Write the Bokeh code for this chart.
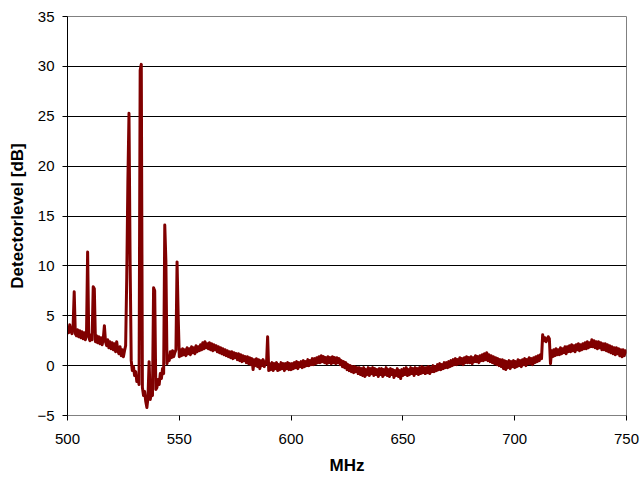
from bokeh.plotting import figure
from bokeh.models import FixedTicker, Range1d
from bokeh.embed import file_html
from bokeh.resources import INLINE

# Detector level [dB], one value every 0.5 MHz starting at 500 MHz
freq_start = 500.0
freq_step = 0.5
level = [
    # 500.0 - 509.5
    3.9, 3.3, 4.1, 3.5, 3.2, 3.9, 7.4, 3.2, 3.0, 3.6, 2.9, 3.5, 2.8, 3.4, 2.7, 3.3, 2.6, 3.2, 11.4, 2.9,
    # 510.0 - 519.5
    2.5, 3.1, 2.6, 7.9, 7.7, 2.4, 3.0, 2.3, 2.9, 2.2, 2.8, 2.1, 2.7, 4.0, 2.4, 2.0, 2.6, 1.8, 2.4, 1.7,
    # 520.0 - 529.5
    2.3, 1.6, 2.2, 1.4, 2.4, 1.5, 1.2, 1.9, 1.0, 1.6, 0.9, 1.5, 2.0, 8.9, 18.4, 25.3, 10.5, 0.5, -0.5, -0.1,
    # 530.0 - 539.5
    -1.0, -0.6, -1.6, -1.2, -1.9, 29.6, 30.2, -2.2, -3.0, -2.6, -3.6, -4.2, -3.2, 0.4, -3.4, -2.8, -3.0, 7.8, 7.5, -2.4,
    # 540.0 - 549.5
    -2.2, -1.4, -1.9, -0.8, -1.3, -0.3, -0.8, 14.1, 10.5, 0.2, 1.0, 0.5, 1.4, 0.8, 1.5, 0.9, 1.3, 1.6, 10.4, 5.0,
    # 550.0 - 559.5
    0.9, 1.6, 1.0, 1.7, 1.1, 1.6, 1.0, 1.8, 1.2, 1.7, 1.1, 1.9, 1.3, 1.8, 1.2, 2.0, 1.4, 1.9, 1.5, 2.1,
    # 560.0 - 569.5
    1.6, 2.3, 1.7, 2.4, 1.8, 2.2, 1.7, 2.3, 1.6, 2.2, 1.5, 2.1, 1.6, 2.0, 1.4, 1.9, 1.3, 1.8, 1.2, 1.7,
    # 570.0 - 579.5
    1.1, 1.6, 1.0, 1.5, 0.9, 1.4, 0.8, 1.4, 0.7, 1.3, 0.8, 1.2, 0.6, 1.2, 0.5, 1.1, 0.4, 1.0, 0.5, 0.9,
    # 580.0 - 589.5
    0.3, 0.9, 0.2, 0.8, 0.1, 0.7, -0.4, 0.6, 0.0, 0.7, -0.1, 0.6, -0.3, 0.5, 0.0, 0.6, -0.1, 0.4, 0.2, 2.9,
    # 590.0 - 599.5
    -0.5, 0.2, -0.4, 0.3, -0.5, 0.2, -0.3, 0.3, -0.5, 0.1, -0.4, 0.3, -0.3, 0.2, -0.5, 0.2, -0.3, 0.3, -0.4, 0.2,
    # 600.0 - 609.5
    -0.4, 0.2, -0.3, 0.3, -0.2, 0.4, -0.3, 0.3, -0.1, 0.4, -0.2, 0.5, -0.1, 0.4, 0.0, 0.6, 0.0, 0.5, 0.1, 0.7,
    # 610.0 - 619.5
    0.1, 0.7, 0.2, 0.8, 0.3, 0.9, 0.3, 1.0, 0.4, 0.9, 0.3, 0.8, 0.2, 0.9, 0.3, 0.8, 0.2, 0.9, 0.3, 0.8,
    # 620.0 - 629.5
    0.2, 0.8, 0.3, 0.7, 0.1, 0.5, -0.1, 0.4, -0.2, 0.3, -0.4, 0.1, -0.5, 0.0, -0.6, -0.1, -0.7, -0.1, -0.6, -0.2,
    # 630.0 - 639.5
    -0.8, -0.2, -0.9, -0.3, -1.0, -0.2, -1.1, -0.4, -0.9, -0.2, -1.0, -0.3, -0.8, -0.2, -1.0, -0.3, -0.9, -0.4, -1.1, -0.3,
    # 640.0 - 649.5
    -0.9, -0.3, -1.1, -0.4, -0.9, -0.2, -1.0, -0.4, -1.1, -0.3, -0.9, -0.4, -1.2, -0.5, -1.0, -0.3, -1.1, -0.5, -1.3, -0.4,
    # 650.0 - 659.5
    -1.0, -0.3, -0.9, -0.2, -1.0, -0.4, -0.9, -0.2, -0.8, -0.3, -1.0, -0.2, -0.8, -0.3, -0.9, -0.2, -0.8, -0.1, -0.7, -0.2,
    # 660.0 - 669.5
    -0.8, -0.2, -0.7, -0.1, -0.8, -0.2, -0.6, 0.0, -0.6, -0.1, -0.5, 0.1, -0.4, 0.2, -0.4, 0.1, -0.3, 0.3, -0.2, 0.3,
    # 670.0 - 679.5
    -0.2, 0.4, -0.1, 0.5, 0.0, 0.6, 0.1, 0.7, 0.1, 0.6, 0.2, 0.8, 0.2, 0.7, 0.1, 0.8, 0.3, 0.9, 0.3, 0.8,
    # 680.0 - 689.5
    0.3, 0.9, 0.2, 0.8, 0.4, 1.0, 0.4, 0.9, 0.3, 1.0, 0.5, 1.1, 0.5, 1.2, 0.6, 1.3, 0.5, 1.1, 0.4, 1.0,
    # 690.0 - 699.5
    0.3, 0.9, 0.2, 0.8, 0.1, 0.7, 0.0, 0.6, -0.1, 0.6, -0.3, 0.5, -0.4, 0.4, -0.2, 0.5, -0.3, 0.4, -0.1, 0.5,
    # 700.0 - 709.5
    -0.2, 0.4, -0.1, 0.6, 0.0, 0.5, -0.1, 0.6, 0.1, 0.7, 0.0, 0.6, 0.2, 0.8, 0.2, 0.7, 0.1, 0.8, 0.3, 0.9,
    # 710.0 - 719.5
    0.4, 1.0, 0.5, 1.1, 0.7, 3.1, 2.5, 2.8, 2.4, 2.6, 2.9, 2.7, 0.2, 1.5, 0.9, 1.6, 1.0, 1.7, 1.1, 1.6,
    # 720.0 - 729.5
    1.1, 1.8, 1.2, 1.7, 1.3, 1.9, 1.2, 1.9, 1.4, 2.0, 1.4, 2.1, 1.5, 2.0, 1.4, 2.1, 1.6, 2.2, 1.5, 2.1,
    # 730.0 - 739.5
    1.6, 2.2, 1.7, 2.3, 1.7, 2.4, 1.8, 2.3, 1.9, 2.6, 1.9, 2.5, 1.8, 2.4, 1.7, 2.4, 1.8, 2.3, 1.6, 2.2,
    # 740.0 - 749.5
    1.6, 2.2, 1.5, 2.1, 1.4, 2.0, 1.3, 1.9, 1.2, 1.8, 1.1, 1.8, 1.2, 1.7, 1.0, 1.6, 0.9, 1.6, 1.0, 1.5,
    # 750.0
    1.2,
]
freq = [freq_start + freq_step * i for i in range(len(level))]

x_ticks = [500, 550, 600, 650, 700, 750]
y_ticks = [-5, 0, 5, 10, 15, 20, 25, 30, 35]

FONT = "Liberation Sans"

p = figure(width=640, height=477, output_backend="svg", toolbar_location=None,
           x_range=Range1d(500, 750), y_range=Range1d(-5, 35),
           min_border_left=67, min_border_right=14, min_border_top=16, min_border_bottom=61)
p.background_fill_color = "white"
p.border_fill_color = "white"
p.outline_line_color = "#808080"
p.outline_line_width = 1

p.line(freq, level, line_color="#800000", line_width=3, line_join="round")

p.xgrid.visible = False
p.ygrid.grid_line_color = "#000000"
p.ygrid.grid_line_width = 1
p.ygrid.ticker = FixedTicker(ticks=y_ticks)

p.xaxis.ticker = FixedTicker(ticks=x_ticks)
p.yaxis.ticker = FixedTicker(ticks=y_ticks)
p.xaxis.axis_label = "MHz"
p.yaxis.axis_label = "Detectorlevel [dB]"

for ax in (p.xaxis, p.yaxis):
    ax.axis_label_text_font = FONT
    ax.axis_label_text_font_size = "17px"
    ax.axis_label_text_font_style = "bold"
    ax.axis_label_text_color = "#000000"
    ax.major_label_text_font = FONT
    ax.major_label_text_font_size = "15px"
    ax.major_label_text_color = "#000000"
    ax.major_tick_out = 5
    ax.major_tick_in = 0
    ax.minor_tick_out = 0
    ax.minor_tick_in = 0
    ax.major_tick_line_color = "#000000"

p.yaxis.axis_line_color = "#000000"
p.xaxis.axis_line_color = "#808080"
p.yaxis.major_label_standoff = 8
p.xaxis.major_label_standoff = 13
p.yaxis.axis_label_standoff = 7
p.xaxis.axis_label_standoff = 9

open("out.html", "w").write(file_html(p, INLINE))
